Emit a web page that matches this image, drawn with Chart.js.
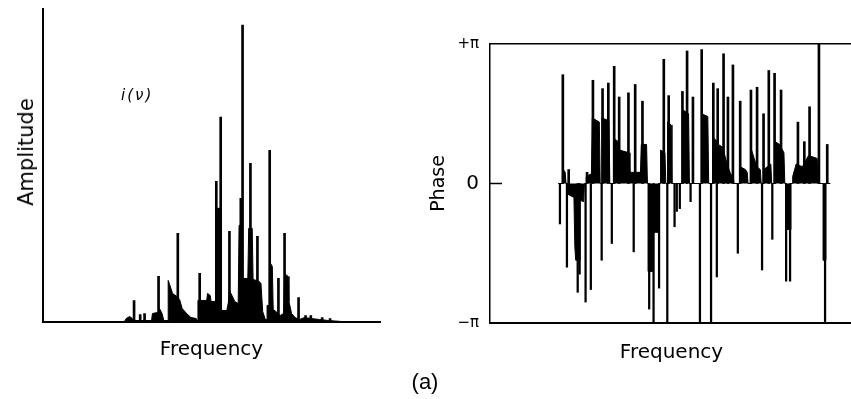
<!DOCTYPE html>
<html><head><meta charset="utf-8">
<script src="https://cdn.jsdelivr.net/npm/chart.js@4.4.1/dist/chart.umd.min.js"></script>
<style>
html,body{margin:0;padding:0;background:#fff;overflow:hidden;width:851px;height:399px;}
#wrapL{position:absolute;left:0;top:0;width:420px;height:372px;}
#wrapR{position:absolute;left:420px;top:0;width:433px;height:372px;}
.lbl{position:absolute;color:#000;white-space:nowrap;line-height:1;}
#amp{font:21px 'DejaVu Sans';left:26px;top:152px;transform:translate(-50%,-50%) rotate(-90deg);}
#iv{font:italic 15px 'DejaVu Sans';letter-spacing:2px;left:121px;top:86px;}
#cap{font:22px 'Liberation Sans';left:425px;top:382px;transform:translate(-50%,-50%);}
</style></head><body>
<div id="wrapL"><canvas id="cL" width="420" height="372"></canvas></div>
<div id="wrapR"><canvas id="cR" width="433" height="372"></canvas></div>
<div class="lbl" id="amp">Amplitude</div>
<div class="lbl" id="iv">i(ν)</div>
<div class="lbl" id="cap">(a)</div>
<script>
// ---- Amplitude spectrum i(ν): continuum (filled envelope) ----
const ampFreq  = [0,69,71,75,78,79,100,101,107,109,112,114,119,119,121,124,129,132,135,140,145,151,152,153,153,163,164,167,168,174,175,179,180,186,188,189,193,195,199,200,202,204,210,211,215,216,223,225,227,230,232,232,235,236,238,239,242,247,251,252,256,257,260,264,269,275,282,292,302,317,337];
const ampLevel = [0,0,3,5,3,1,1,8,9,13,8,1,1,41,36,28,25,22,13,8,4,3,1,1,21,21,28,26,20,20,113,113,11,11,20,31,24,20,18,96,96,43,43,93,93,42,40,38,10,2,2,16,16,58,55,12,10,6,8,48,45,20,8,4,2,4,3,2,1,0,0];
// ---- Amplitude spectrum: sharp lines ----
const ampPeakFreq   = [80,87,92,108,130,155,174,179,189,202,204,213,221,235,245,252,268,276,282,295,304];
const ampPeakHeight = [21,7,8,45,88,48,140,204,90,123,296,158,85,171,43,88,24,6,6,4,3];

// ---- Phase spectrum (in units of π): continuum ----
const phaseFreq  = [52,58,58,60,61,64,64,70,71,72,77,77,81,82,84,84,90,91,99,100,102,102,110,111,116,116,121,122,133,134,146,147,153,154,155,155,160,161,167,167,169,169,174,175,177,177,181,182,194,194,201,202,216,216,223,224,229,229,234,235,240,245,249,252,253,260,260,266,268,269,272,272,276,279,283,284,287,287,291,295,296,300,300,305,310,311,312,312,317,318,320,320,324,331,338,348,349,355,355,358,358,363];
const phaseLevel = [0,0,0.10,0.08,0,0,-0.08,-0.10,-0.45,-0.55,-0.55,-0.12,-0.13,0,0,0.05,0.07,0.47,0.44,0,0,0.47,0.45,0,0,0.32,0.30,0.24,0.22,0.08,0.08,0.28,0.28,0,0,-0.63,-0.63,-0.35,-0.35,0,0,0.24,0.22,0,0,0.44,0.42,0,0,0.53,0.50,0,0,0.50,0.48,0,0,0.33,0.30,0.28,0.26,0.14,0.07,0.05,0,0,0.12,0.10,0.08,0,0,0.26,0.18,0.12,0.10,0,0,0.10,0.12,0.14,0,0,0.30,0.28,0.22,0,0,-0.33,-0.33,0,0,0.05,0.14,0.12,0.20,0.18,0,0,-0.55,-0.55,0,0];
// ---- Phase spectrum: positive lines ----
const phaseUpFreq  = [57.3,64,85,91.7,102.7,109.3,116,121.7,132.3,140,148.3,172.7,178.3,194,199.3,206,216,229.3,234.3,241,246,251.7,260,272.3,279.3,286.7,292.7,299.3,306.7,326,333.3,339.3,350,359.5];
const phaseUpValue = [0.78,0.10,0.08,0.74,0.68,0.72,0.84,0.62,0.65,0.71,0.59,0.89,0.63,0.66,0.95,0.62,0.96,0.72,0.68,0.93,0.62,0.85,0.59,0.67,0.69,0.50,0.81,0.79,0.67,0.44,0.30,0.55,1.0,0.28];
// ---- Phase spectrum: negative lines ----
const phaseDownFreq  = [54,62,74.3,76.5,83.3,89.3,101.7,113.3,138.3,156,161,167.3,176.7,185,187.5,191,203.3,214,226.7,233.3,257.3,285,296.7,312.5,317,357];
const phaseDownValue = [-0.29,-0.60,-0.78,-0.65,-0.85,-0.76,-0.55,-0.43,-0.49,-0.90,-1.0,-0.75,-1.0,-0.31,-0.20,-0.18,-0.13,-0.99,-1.0,-0.67,-0.50,-0.62,-0.40,-0.70,-0.70,-0.99];
// ---- Phase axis ticks ----
const phaseTickValues = [-1, 0, 1];
const phaseTickLabels = ['−π', '0', '+π'];

const pts = (xs, ys) => xs.map((x, i) => ({x, y: ys[i]}));
Chart.defaults.font.family = "'DejaVu Sans'";
Chart.defaults.color = '#000';

const noGrid = {display:false, drawTicks:false};

new Chart(document.getElementById('cL'), {
  data: {datasets: [
    {type:'line', data: pts(ampFreq, ampLevel), borderColor:'#000', borderWidth:1, backgroundColor:'#000', fill:'origin', pointRadius:0, tension:0},
    {type:'bar', data: pts(ampPeakFreq, ampPeakHeight), backgroundColor:'#000', barThickness:2, grouped:false}
  ]},
  options: {
    responsive:false, animation:false, devicePixelRatio:1,
    layout:{padding:{left:43, top:9, right:40, bottom:0}},
    plugins:{legend:{display:false}, tooltip:{enabled:false}},
    scales:{
      x:{type:'linear', min:0, max:337, ticks:{display:false}, grid:noGrid,
         border:{display:true, color:'#000', width:2},
         title:{display:true, text:'Frequency', font:{size:20}, padding:{top:0,bottom:10}},
         afterFit:s=>{s.height=50.5;}},
      y:{type:'linear', min:0, max:312, ticks:{display:false}, grid:noGrid,
         border:{display:true, color:'#000', width:2}}
    }
  }
});

const zeroTick = {id:'zeroTick', afterDraw(chart){
  const {ctx, chartArea:a, scales:{y}} = chart; const py = y.getPixelForValue(0);
  ctx.save(); ctx.strokeStyle='#000'; ctx.lineWidth=1.5; ctx.beginPath();
  ctx.moveTo(a.left, py); ctx.lineTo(a.left+12, py); ctx.stroke(); ctx.restore();
}};

new Chart(document.getElementById('cR'), {
  data: {datasets: [
    {type:'line', data: pts(phaseFreq, phaseLevel), borderColor:'#000', borderWidth:1, backgroundColor:'#000', fill:'origin', pointRadius:0, tension:0},
    {type:'bar', data: pts(phaseUpFreq, phaseUpValue), backgroundColor:'#000', barThickness:2, grouped:false},
    {type:'bar', data: pts(phaseDownFreq, phaseDownValue), backgroundColor:'#000', barThickness:1.6, grouped:false}
  ]},
  options: {
    responsive:false, animation:false, devicePixelRatio:1,
    layout:{padding:{left:0, top:44, right:0, bottom:0}},
    plugins:{legend:{display:false}, tooltip:{enabled:false}},
    scales:{
      x:{type:'linear', min:0, max:363, ticks:{display:false}, grid:noGrid,
         border:{display:true, color:'#000', width:2},
         title:{display:true, text:'Frequency', font:{size:20}, padding:{top:0,bottom:7}},
         afterFit:s=>{s.height=49;}},
      xTop:{type:'linear', position:'top', min:0, max:363, ticks:{display:false}, grid:noGrid,
         border:{display:true, color:'#000', width:1.5}, afterFit:s=>{s.height=0;}},
      y:{type:'linear', min:-1, max:1, grid:noGrid,
         border:{display:true, color:'#000', width:1.5},
         afterBuildTicks:s=>{s.ticks = phaseTickValues.map(v=>({value:v}));},
         ticks:{padding:11, callback:v=>phaseTickLabels[phaseTickValues.indexOf(v)],
                font:c=>({family:"'DejaVu Sans'", size:(c.tick && c.tick.value===0)?20:15})},
         title:{display:true, text:'Phase', font:{size:19}, padding:{top:8,bottom:0}},
         afterFit:s=>{s.width=70;}}
    }
  },
  plugins:[zeroTick]
});
</script>
</body></html>
